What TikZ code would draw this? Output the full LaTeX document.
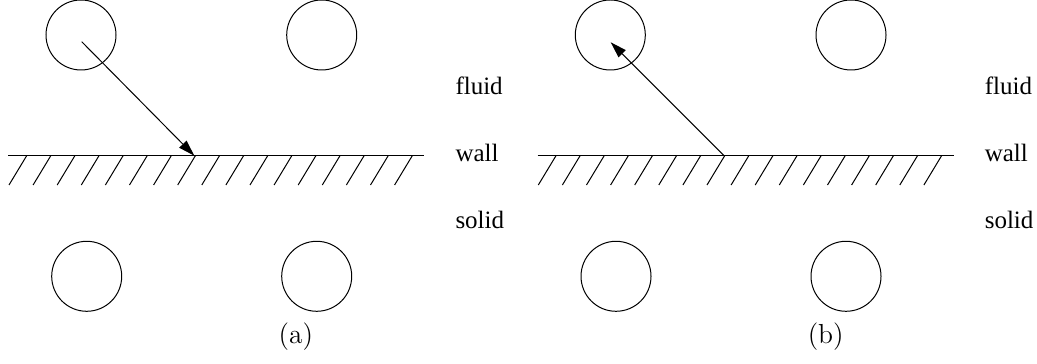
\documentclass[tikz,border=0pt]{standalone}
\usepackage{fontspec}
\newfontfamily\phasefont{Liberation Serif}
\usetikzlibrary{arrows.meta}

\begin{document}
\begin{tikzpicture}[x=0.4pt,y=-0.4pt,
		grain/.style={draw,circle,minimum size=28pt,inner sep=0pt},
		phase/.style={anchor=base west,inner sep=0pt,font=\phasefont},
		panel/.style={anchor=base,inner sep=0pt,font=\fontsize{11}{13}\selectfont},
		ray/.style={-{Triangle[length=6.5pt,width=4pt]}}]
		\useasboundingbox (0,0) rectangle (1037,364);
		
		% (a) particle hitting the wall
		\begin{scope}
			\node[grain] (atl) at (81,35) {};
			\node[grain] (atr) at (321.7,35) {};
			\node[grain] (abl) at (86.7,276.3) {};
			\node[grain] (abr) at (316.7,276.3) {};
			% wall and hatching
			\coordinate (awl) at (8.3,155.7);
			\coordinate (awr) at (424.3,155.7);
			\draw (awl) -- (awr);
			\foreach \i in {0,...,16}
				\draw (26.7+24.1*\i,155.7) -- ++(-17.7,29.3);
			\coordinate (ahit) at (194.3,155.7);
			\coordinate (afrom) at (81.7,41.7);
			\draw[ray] (afrom) -- (ahit);
			\node[phase] (afluid) at (455,95) {fluid};
			\node[phase] (awall) at (455,161.7) {wall};
			\node[phase] (asolid) at (455,228.3) {solid};
			\node[panel] (acap) at (295.8,343.3) {(a)};
		\end{scope}
		
		% (b) particle leaving the wall
		\begin{scope}[shift={(529.3,0)}]
			\node[grain] (btl) at (81,35) {};
			\node[grain] (btr) at (321.7,35) {};
			\node[grain] (bbl) at (86.7,276.3) {};
			\node[grain] (bbr) at (316.7,276.3) {};
			% wall and hatching
			\coordinate (bwl) at (8.3,155.7);
			\coordinate (bwr) at (424.3,155.7);
			\draw (bwl) -- (bwr);
			\foreach \i in {0,...,16}
				\draw (26.7+24.1*\i,155.7) -- ++(-17.7,29.3);
			\coordinate (bhit) at (194.7,155.7);
			\coordinate (bto) at (81.4,42.3);
			\draw[ray] (bhit) -- (bto);
			\node[phase] (bfluid) at (455,95) {fluid};
			\node[phase] (bwall) at (455,161.7) {wall};
			\node[phase] (bsolid) at (455,228.3) {solid};
			\node[panel] (bcap) at (296.4,343.3) {(b)};
		\end{scope}
\end{tikzpicture}
\end{document}
